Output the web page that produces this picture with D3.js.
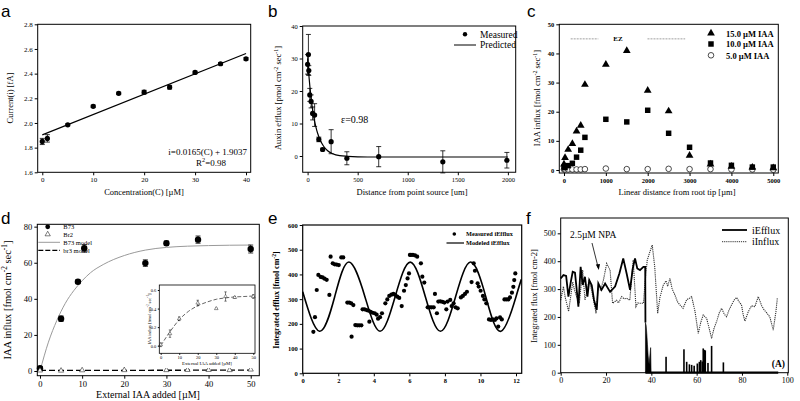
<!DOCTYPE html>
<html>
<head>
<meta charset="utf-8">
<script src="https://cdn.jsdelivr.net/npm/d3@7"></script>
<style>
  body { margin: 0; background: #fff; }
  svg { display: block; }
</style>
</head>
<body>
<svg id="chart" width="800" height="401"></svg>
<script>
// ---- panel a: calibration
const aConc = [0, 1, 5, 10, 15, 20, 25, 30, 35, 40];
const aCurrent = [1.85, 1.875, 1.985, 2.135, 2.24, 2.25, 2.29, 2.41, 2.48, 2.52];
const aErr = [0.025, 0.03, 0.008, 0.01, 0.01, 0.015, 0.015, 0.01, 0.01, 0.01];
const aFitX = [0, 40];
const aFitY = [1.9037, 2.5637];
const aXTicks = [0, 10, 20, 30, 40];
const aYTicks = [1.6, 1.8, 2.0, 2.2, 2.4, 2.6, 2.8];

// ---- panel b: efflux vs distance
const bDist = [0, 8, 12, 22, 35, 50, 70, 112, 150, 235, 392, 710, 1350, 1990];
const bEfflux = [28.2, 31.2, 26.3, 18.8, 16.8, 13.1, 12.6, 5.1, 2.0, 4.4, -0.7, -0.2, -1.8, -1.3];
const bErr = [3, 6.2, 1.5, 2, 2, 2, 3.5, 0.7, 0.4, 3.7, 2, 3.1, 3.4, 2.4];
const bPredX = [0, 15, 30, 45, 60, 80, 100, 130, 160, 200, 250, 320, 400, 600, 1000, 2000];
const bPredY = [30, 24, 19.2, 15.3, 12.3, 9.3, 7.0, 4.6, 3.0, 1.6, 0.7, 0.1, -0.1, -0.3, -0.3, -0.3];
const bXTicks = [0, 500, 1000, 1500, 2000];
const bYTicks = [0, 10, 20, 30, 40];

// ---- panel c: IAA influx along root
const cDist = [0, 25, 100, 200, 300, 400, 500, 1000, 1500, 2000, 2500, 3000, 3500, 4000, 4500, 5000];
const c15 = [2, 4.2, 7, 9, 13.3, 15.3, 29.3, 36.2, 40.9, 27.3, 20.2, 5, 2, 1.2, 0.9, 0.7];
const c10 = [1.0, 0.8, 1.5, 2.3, 4.4, 6.8, 11.2, 17.4, 16.5, 20.5, 12.6, 7.8, 2.4, 1.6, 1.0, 1.0];
const c5 = [0.2, 0.2, 0.2, 0.2, 0.2, 0.2, 0.3, 0.5, 0.3, 0.3, 0.4, 0.3, 0.3, 0.2, 0.2, 0.1];
const cEzLeft = [160, 820];
const cEzRight = [1995, 2895];
const cXTicks = [0, 1000, 2000, 3000, 4000, 5000];
const cYTicks = [0, 10, 20, 30, 40, 50];

// ---- panel d: saturation
const dB73X = [0, 5, 9, 10.5, 25, 30, 37.5, 50];
const dB73Y = [1.5, 29, 49.5, 68, 59.8, 70.8, 72.8, 67.6];
const dB73Err = [1, 1.5, 1, 2, 1.8, 1.2, 2, 2.2];
const dBr2X = [0, 5, 10, 20, 30, 35, 40, 45, 50];
const dBr2Y = [0.3, 0.2, 0.4, 0.5, 0.5, 0.6, 0.6, 0.5, 0.8];
const dModelX = [0, 2, 4, 6, 8, 10, 12, 15, 20, 25, 30, 40, 50];
const dModelY = [0, 16, 28, 37.5, 44.5, 50, 54.5, 59, 64, 67, 68.5, 69.5, 69.8];
const dBr3X = [0, 50];
const dBr3Y = [0.3, 0.5];
const dXTicks = [0, 10, 20, 30, 40, 50];
const dYTicks = [0, 20, 40, 60, 80];
const insX = [0, 5, 10, 20, 30, 35, 40, 50];
const insY = [0.01, 0.13, 0.29, 0.46, 0.40, 0.53, 0.52, 0.53];
const insErr = [0.02, 0.04, 0.02, 0.03, 0.005, 0.05, 0.01, 0.02];
const insFitX = [0, 5, 10, 15, 20, 25, 30, 35, 40, 45, 50];
const insFitY = [0, 0.15, 0.28, 0.37, 0.43, 0.47, 0.50, 0.515, 0.525, 0.53, 0.535];
const insXTicks = [0, 10, 20, 30, 40, 50];
const insYTicks = [0, 0.2, 0.4, 0.6];

// ---- panel e: oscillating efflux
const eMeasured = [
  [0.6, 168], [0.69, 227], [0.79, 337], [0.88, 398], [1.01, 390], [1.12, 388], [1.23, 383], [1.35, 378],
  [1.5, 317], [1.57, 472], [1.69, 445], [1.8, 441], [1.91, 440], [2.03, 438], [2.17, 469], [2.28, 469],
  [2.51, 286], [2.62, 286], [2.73, 283], [2.85, 276], [2.75, 148], [2.96, 195], [3.07, 194], [3.18, 194],
  [3.3, 194], [3.37, 259], [3.48, 259], [3.6, 256], [3.71, 253], [3.75, 209], [3.82, 249], [3.93, 245],
  [4.05, 243], [4.16, 237], [4.24, 221], [4.35, 227], [4.46, 243], [4.65, 283], [4.76, 299], [4.87, 313],
  [4.99, 318], [5.1, 321], [5.21, 317], [5.32, 310], [5.43, 305], [5.57, 272], [5.7, 334], [5.8, 357],
  [5.9, 384], [5.98, 404], [6.03, 479], [6.09, 479], [6.2, 479], [6.32, 477], [6.44, 472], [6.65, 445],
  [6.73, 391], [6.84, 367], [7.03, 267], [7.14, 267], [7.25, 267], [7.37, 267], [7.44, 321], [7.55, 243],
  [7.63, 290], [7.74, 291], [7.86, 289], [7.97, 286], [8.08, 259], [8.15, 290], [8.3, 297], [8.38, 272],
  [8.49, 283], [8.6, 267], [8.72, 263], [8.9, 307], [9.01, 313], [9.13, 321], [9.24, 330], [9.5, 369],
  [9.62, 445], [9.69, 415], [9.84, 364], [9.9, 351], [10.01, 334], [10.14, 313], [10.22, 299], [10.33, 283],
  [10.48, 218], [10.59, 216], [10.7, 218], [10.81, 216], [10.9, 222], [11.0, 189], [11.1, 226], [11.2, 218],
  [11.35, 299], [11.46, 299], [11.57, 299], [11.66, 307], [11.77, 326], [11.85, 350], [11.9, 377], [11.96, 404]
];
const eModelX = [0, 0.95, 1.8, 2.6, 3.5, 4.35, 5.2, 6.05, 6.9, 7.75, 8.6, 9.45, 10.3, 11.15, 12.0, 12.3];
const eModelY = [330, 170, 310, 450, 310, 170, 310, 450, 310, 170, 310, 450, 310, 170, 310, 380];
const eXTicks = [0, 2, 4, 6, 8, 10, 12];
const eYTicks = [0, 100, 200, 300, 400, 500, 600];

// ---- panel f: NPA treatment
const fEfflux = [
  [0, 338], [1.2, 350], [2.4, 347], [3.4, 273], [4.4, 323], [5.3, 362], [6.3, 359], [7, 303], [7.8, 237],
  [8.8, 380], [9.7, 315], [10.7, 344], [11.8, 273], [12.6, 332], [13.7, 314], [14.7, 261], [15.9, 225],
  [16.6, 320], [18, 297], [19.6, 320], [21.8, 290], [24, 309], [25.9, 356], [27.6, 410], [29.1, 356],
  [30.6, 297], [31.8, 374], [32.8, 410], [33.8, 374], [35, 368], [36.5, 380], [37.3, 380]
];
const fEffluxDrop = [[37.4, 180], [37.7, 170], [38, 140], [38.3, 100], [38.6, 60], [39.0, 30], [39.7, 90], [39.9, 0]];
const fEffluxTail = [[37.4, 0], [96, 0]];
const fSpikes = [
  [46.5, 57], [54.4, 84], [55.6, 39], [56.8, 30], [57.8, 28], [58.9, 25], [60.3, 33], [61.2, 39],
  [61.8, 45], [62.5, 40], [62.9, 87], [63.4, 82], [63.8, 80], [65, 35], [66.6, 96], [71.8, 37]
];
const fInflux = [
  [0, 260], [1.2, 309], [2, 270], [3.5, 220], [5.3, 326], [6, 300], [7, 273], [8.2, 249], [9.7, 368],
  [10.7, 260], [11.5, 290], [12.6, 335], [13.5, 300], [14.5, 260], [15.6, 213], [16.5, 300], [17.6, 297],
  [18.8, 330], [20.3, 392], [21.8, 368], [22.9, 249], [24.7, 260], [25.5, 250], [26.9, 273], [28, 265],
  [29.1, 267], [30.5, 260], [31.2, 330], [32, 404], [33.2, 237], [34, 250], [35, 249], [36.5, 249],
  [37.3, 330], [38.2, 404], [39.2, 430], [40.4, 458], [41.5, 380], [42.8, 213], [43.8, 270], [45.3, 315],
  [46.5, 330], [47.2, 310], [48.2, 338], [49.2, 300], [50.4, 279], [51.5, 255], [52.6, 243], [54, 231],
  [55.6, 262], [57, 268], [57.8, 273], [59.3, 219], [60.7, 141], [61.8, 180], [62.9, 207], [64.4, 195],
  [65.5, 160], [66.6, 123], [67.7, 160], [68.8, 183], [70, 215], [71, 231], [72.2, 210], [73.2, 201],
  [74.3, 225], [75.4, 243], [76.5, 260], [77.6, 270], [78.7, 255], [79.8, 243], [80.5, 210], [81.3, 185],
  [82.8, 219], [84.2, 240], [85.7, 237], [87.2, 273], [88.7, 240], [89.8, 225], [90.9, 215], [92.3, 200],
  [93.8, 153], [95, 220], [95.6, 267]
];
const fXTicks = [0, 20, 40, 60, 80, 100];
const fYTicks = [0, 100, 200, 300, 400, 500];

const SERIF = '"Liberation Serif", "Times New Roman", serif';
const SANS = '"Liberation Sans", Arial, sans-serif';
const svg = d3.select('#chart');

function makePanel(p) {
  const g = svg.append('g');
  const x = d3.scaleLinear().domain(p.xDomain).range(p.xRange);
  const y = d3.scaleLinear().domain(p.yDomain).range(p.yRange);
  const [l, t, r, b] = p.box;
  const ts = p.tickSize || 3;
  const xa = g.append('g')
    .attr('transform', `translate(0,${b})`)
    .call(d3.axisBottom(x).tickValues(p.xTicks).tickSize(ts).tickPadding(p.pad || 2)
      .tickFormat(p.xFormat || (d => d)));
  const ya = g.append('g')
    .attr('transform', `translate(${l},0)`)
    .call(d3.axisLeft(y).tickValues(p.yTicks).tickSize(ts).tickPadding(p.pad || 2)
      .tickFormat(p.yFormat || (d => d)));
  [xa, ya].forEach(a => {
    a.select('.domain').remove();
    a.selectAll('line').attr('stroke', '#000');
    a.selectAll('text')
      .attr('font-family', p.font || SERIF)
      .attr('font-size', p.tickFont || 7)
      .attr('font-weight', p.bold ? 'bold' : 'normal')
      .attr('fill', '#000');
  });
  const frame = g.append('rect')
    .attr('x', l).attr('y', t)
    .attr('width', r - l).attr('height', b - t)
    .attr('fill', 'none').attr('stroke', '#000').attr('stroke-width', p.frameWidth || 1);
  const plot = g.append('g');
  frame.raise();
  return { g, plot, x, y };
}

function label(g, x, y, str, opt = {}) {
  return g.append('text')
    .attr('x', x).attr('y', y)
    .attr('font-family', opt.font || SERIF)
    .attr('font-size', opt.size || 9)
    .attr('font-weight', opt.bold ? 'bold' : 'normal')
    .attr('text-anchor', opt.anchor || 'start')
    .attr('fill', '#000')
    .text(str);
}

// text with alternating normal / superscript parts
function richText(g, x, y, parts, opt = {}) {
  const size = opt.size || 9;
  const t = g.append('text')
    .attr('transform', `translate(${x},${y})` + (opt.rotate ? ' rotate(-90)' : ''))
    .attr('font-family', opt.font || SERIF)
    .attr('font-size', size)
    .attr('font-weight', opt.bold ? 'bold' : 'normal')
    .attr('text-anchor', opt.anchor || 'middle')
    .attr('fill', '#000');
  parts.forEach((p, i) => {
    const sup = i % 2 === 1;
    t.append('tspan')
      .attr('dy', sup ? -size * 0.38 : (i > 0 ? size * 0.38 : 0))
      .attr('font-size', sup ? size * 0.7 : size)
      .text(p);
  });
  return t;
}

function errorBars(g, x, y, xs, ys, es, cap, w) {
  g.append('g').selectAll('path')
    .data(xs.map((v, i) => ({ x: v, y: ys[i], e: es[i] })))
    .join('path')
    .attr('d', d => {
      const cx = x(d.x), y1 = y(d.y + d.e), y2 = y(d.y - d.e);
      return `M${cx},${y1}V${y2}M${cx - cap},${y1}H${cx + cap}M${cx - cap},${y2}H${cx + cap}`;
    })
    .attr('fill', 'none').attr('stroke', '#000').attr('stroke-width', w || 0.8);
}

function panelLetter(x, y, s) {
  label(svg, x, y, s, { font: SANS, size: 17 });
}

// ================= panel a =================
{
  const { g, plot, x, y } = makePanel({
    box: [37.7, 24.3, 250.7, 172.3],
    xDomain: [-0.9, 40.92], xRange: [37.7, 250.7],
    yDomain: [1.6, 2.8], yRange: [172.3, 24.3],
    xTicks: aXTicks, yTicks: aYTicks, yFormat: d3.format('.1f'), tickFont: 7
  });
  plot.append('path')
    .attr('d', d3.line().x((d, i) => x(aFitX[i])).y(d => y(d))(aFitY))
    .attr('fill', 'none').attr('stroke', '#000').attr('stroke-width', 1.2);
  errorBars(plot, x, y, aConc, aCurrent, aErr, 2.5);
  plot.selectAll('circle').data(aConc).join('circle')
    .attr('cx', d => x(d)).attr('cy', (d, i) => y(aCurrent[i])).attr('r', 2.6).attr('fill', '#000');
  label(g, 247, 155, 'i=0.0165(C) + 1.9037', { size: 9, anchor: 'end' });
  richText(g, 211, 165.5, ['R', '2', '=0.98'], { size: 9 });
  richText(g, 13, 98, ['Current(i) [fA]'], { size: 8.5, rotate: true });
  label(g, 144, 195, 'Concentration(C) [\u00b5M]', { size: 8.5, anchor: 'middle' });
  panelLetter(1, 16.5, 'a');
}

// ================= panel b =================
{
  const { g, plot, x, y } = makePanel({
    box: [302.7, 26, 515.7, 172.25],
    xDomain: [-49, 2078], xRange: [302.7, 515.7],
    yDomain: [-5, 40], yRange: [172.25, 26],
    xTicks: bXTicks, yTicks: bYTicks, tickFont: 6.5
  });
  plot.append('path')
    .attr('d', d3.line().curve(d3.curveMonotoneX).x((d, i) => x(bPredX[i])).y(d => y(d))(bPredY))
    .attr('fill', 'none').attr('stroke', '#000').attr('stroke-width', 1.2);
  errorBars(plot, x, y, bDist, bEfflux, bErr, 2.5);
  plot.selectAll('circle').data(bDist).join('circle')
    .attr('cx', d => x(d)).attr('cy', (d, i) => y(bEfflux[i])).attr('r', 2.6).attr('fill', '#000');
  g.append('circle').attr('cx', 465).attr('cy', 34.3).attr('r', 2.2).attr('fill', '#000');
  label(g, 480, 37.5, 'Measured', { size: 9.5 });
  g.append('line').attr('x1', 454).attr('x2', 476).attr('y1', 45).attr('y2', 45).attr('stroke', '#000');
  label(g, 480, 48.3, 'Predicted', { size: 9.5 });
  label(g, 341, 122.5, '\u03b5=0.98', { size: 10 });
  richText(g, 281, 98, ['Auxin efflux [pmol cm', '-2', ' sec', '-1', ']'], { size: 8.5, rotate: true });
  label(g, 412, 195, 'Distance from point source [um]', { size: 8.5, anchor: 'middle' });
  panelLetter(268, 16.5, 'b');
}

// ================= panel c =================
{
  const { g, plot, x, y } = makePanel({
    box: [559.3, 24.3, 778.3, 173],
    xDomain: [-112, 5120], xRange: [559.3, 778.3],
    yDomain: [-1.03, 50], yRange: [173, 24.3],
    xTicks: cXTicks, yTicks: cYTicks, tickFont: 6.5, bold: true
  });
  [cEzLeft, cEzRight].forEach(seg => {
    plot.append('line')
      .attr('x1', x(seg[0])).attr('x2', x(seg[1])).attr('y1', y(45)).attr('y2', y(45))
      .attr('stroke', '#888').attr('stroke-width', 0.8).attr('stroke-dasharray', '2,1');
  });
  label(g, x(1290), y(45) + 2.5, 'EZ', { size: 7, bold: true, anchor: 'middle' });
  const tri = d3.symbol(d3.symbolTriangle).size(26);
  const sq = d3.symbol(d3.symbolSquare).size(30);
  plot.selectAll('.c5').data(cDist).join('circle').attr('class', 'c5')
    .attr('cx', d => x(d)).attr('cy', (d, i) => y(c5[i])).attr('r', 2.8)
    .attr('fill', '#fff').attr('stroke', '#000').attr('stroke-width', 0.7);
  plot.selectAll('.c10').data(cDist).join('path').attr('class', 'c10')
    .attr('transform', (d, i) => `translate(${x(d)},${y(c10[i])})`).attr('d', sq).attr('fill', '#000');
  plot.selectAll('.c15').data(cDist).join('path').attr('class', 'c15')
    .attr('transform', (d, i) => `translate(${x(d)},${y(c15[i])})`).attr('d', tri).attr('fill', '#000');
  g.append('path').attr('transform', 'translate(711,33.3)').attr('d', tri).attr('fill', '#000');
  g.append('path').attr('transform', 'translate(711,44)').attr('d', sq).attr('fill', '#000');
  g.append('circle').attr('cx', 711).attr('cy', 55.3).attr('r', 2.8)
    .attr('fill', '#fff').attr('stroke', '#000').attr('stroke-width', 0.7);
  label(g, 726, 36.5, '15.0 \u00b5M IAA', { size: 8.5, bold: true });
  label(g, 726, 47.2, '10.0 \u00b5M IAA', { size: 8.5, bold: true });
  label(g, 726, 58.5, '5.0 \u00b5M IAA', { size: 8.5, bold: true });
  richText(g, 540, 98, ['IAA influx [fmol cm', '-2', ' sec', '-1', ']'], { size: 8.5, rotate: true });
  label(g, 677, 195, 'Linear distance from root tip [\u00b5m]', { size: 8.5, anchor: 'middle' });
  panelLetter(527, 16.5, 'c');
}

// ================= panel d =================
{
  const { g, plot, x, y } = makePanel({
    box: [37.3, 224.3, 259.3, 375.7],
    xDomain: [-0.64, 52.04], xRange: [37.3, 259.3],
    yDomain: [-2.6, 81.3], yRange: [375.7, 224.3],
    xTicks: dXTicks, yTicks: dYTicks, tickFont: 8.5
  });
  plot.append('path')
    .attr('d', d3.line().curve(d3.curveMonotoneX).x((d, i) => x(dModelX[i])).y(d => y(d))(dModelY))
    .attr('fill', 'none').attr('stroke', '#9a9a9a').attr('stroke-width', 1);
  plot.append('path')
    .attr('d', d3.line().x((d, i) => x(dBr3X[i])).y(d => y(d))(dBr3Y))
    .attr('fill', 'none').attr('stroke', '#000').attr('stroke-width', 1.3).attr('stroke-dasharray', '6,3');
  errorBars(plot, x, y, dB73X, dB73Y, dB73Err, 2.5);
  plot.selectAll('.b73').data(dB73X).join('circle').attr('class', 'b73')
    .attr('cx', d => x(d)).attr('cy', (d, i) => y(dB73Y[i])).attr('r', 3.2).attr('fill', '#000');
  const otri = d3.symbol(d3.symbolTriangle).size(12);
  plot.selectAll('.br2').data(dBr2X).join('path').attr('class', 'br2')
    .attr('transform', (d, i) => `translate(${x(d)},${y(dBr2Y[i])})`).attr('d', otri)
    .attr('fill', '#fff').attr('stroke', '#000').attr('stroke-width', 0.5);

  // legend
  g.append('circle').attr('cx', 47.7).attr('cy', 226.8).attr('r', 2.4).attr('fill', '#000');
  g.append('path').attr('transform', 'translate(47.7,234.3)').attr('d', otri)
    .attr('fill', '#fff').attr('stroke', '#000').attr('stroke-width', 0.5);
  g.append('line').attr('x1', 38.3).attr('x2', 60).attr('y1', 242.3).attr('y2', 242.3)
    .attr('stroke', '#9a9a9a').attr('stroke-width', 1);
  g.append('line').attr('x1', 38.3).attr('x2', 60).attr('y1', 250.3).attr('y2', 250.3)
    .attr('stroke', '#000').attr('stroke-width', 1.3).attr('stroke-dasharray', '5,2');
  label(g, 63.3, 229, 'B73', { size: 6.5 });
  label(g, 63.3, 236.6, 'Br2', { size: 6.5 });
  label(g, 63.3, 244.6, 'B73 model', { size: 6.5 });
  label(g, 63.3, 252.6, 'br3 model', { size: 6.5 });

  // inset
  const inset = makePanel({
    box: [159.3, 285, 255, 353.3],
    xDomain: [-0.76, 50.92], xRange: [159.3, 255],
    yDomain: [-0.082, 0.654], yRange: [353.3, 285],
    xTicks: insXTicks, yTicks: insYTicks, yFormat: d3.format('.1f'),
    tickFont: 4.5, tickSize: 1.5, pad: 1.5, frameWidth: 0.8
  });
  inset.g.insert('rect', ':first-child')
    .attr('x', 140).attr('y', 284).attr('width', 116).attr('height', 84).attr('fill', '#fff');
  inset.plot.append('path')
    .attr('d', d3.line().curve(d3.curveMonotoneX).x((d, i) => inset.x(insFitX[i])).y(d => inset.y(d))(insFitY))
    .attr('fill', 'none').attr('stroke', '#555').attr('stroke-width', 0.9).attr('stroke-dasharray', '4,2');
  errorBars(inset.plot, inset.x, inset.y, insX, insY, insErr, 1.2, 0.5);
  const itri = d3.symbol(d3.symbolTriangle).size(6);
  inset.plot.selectAll('.ins').data(insX).join('path').attr('class', 'ins')
    .attr('transform', (d, i) => `translate(${inset.x(d)},${inset.y(insY[i])})`).attr('d', itri)
    .attr('fill', '#fff').attr('stroke', '#000').attr('stroke-width', 0.4);
  richText(inset.g, 150.5, 319, ['IAA influx [fmol cm', '-2', ' sec', '-1', ']'], { size: 4.5, rotate: true });
  label(inset.g, 207, 365, 'External IAA added [\u00b5M]', { size: 4.8, anchor: 'middle' });
  inset.g.raise();

  richText(g, 11, 300, ['IAA influx [fmol cm', '-2', ' sec', '-1', ']'], { size: 10.5, rotate: true });
  label(g, 148, 397.5, 'External IAA added [\u00b5M]', { size: 10, anchor: 'middle' });
  panelLetter(1, 224, 'd');
}

// ================= panel e =================
{
  const { g, plot, x, y } = makePanel({
    box: [302.7, 225, 521.7, 373.3],
    xDomain: [0, 12.32], xRange: [302.7, 521.7],
    yDomain: [0, 600], yRange: [373.3, 225],
    xTicks: eXTicks, yTicks: eYTicks, tickFont: 6.5, bold: true, frameWidth: 1.2
  });
  plot.append('path')
    .attr('d', d3.line().curve(d3.curveNatural).x((d, i) => x(eModelX[i])).y(d => y(d))(eModelY))
    .attr('fill', 'none').attr('stroke', '#000').attr('stroke-width', 1.6);
  plot.selectAll('circle').data(eMeasured).join('circle')
    .attr('cx', d => x(d[0])).attr('cy', d => y(d[1])).attr('r', 2.1).attr('fill', '#000');
  g.append('circle').attr('cx', 454.3).attr('cy', 234).attr('r', 1.8).attr('fill', '#000');
  g.append('line').attr('x1', 446.5).attr('x2', 464).attr('y1', 243).attr('y2', 243)
    .attr('stroke', '#000').attr('stroke-width', 1.2);
  label(g, 466, 236, 'Measured iEfflux', { size: 6.3, bold: true });
  label(g, 466, 245, 'Modeled iEfflux', { size: 6.3, bold: true });
  richText(g, 279, 300, ['Integrated efflux [fmol cm', '-2', ']'], { size: 8, bold: true, rotate: true });
  panelLetter(268, 224, 'e');
}

// ================= panel f =================
{
  const { g, plot, x, y } = makePanel({
    box: [560.7, 218, 788.3, 372.7],
    xDomain: [0, 100.45], xRange: [560.7, 788.3],
    yDomain: [0, 555], yRange: [372.7, 218],
    xTicks: fXTicks, yTicks: fYTicks, tickFont: 8
  });
  const line = d3.line().x(d => x(d[0])).y(d => y(d[1]));
  plot.append('path').attr('d', line(fInflux))
    .attr('fill', 'none').attr('stroke', '#333').attr('stroke-width', 1.1).attr('stroke-dasharray', '1.2,0.9');
  plot.append('path').attr('d', line(fEfflux.concat([fEffluxDrop[0]])))
    .attr('fill', 'none').attr('stroke', '#000').attr('stroke-width', 1.8);
  plot.append('path')
    .attr('d', d3.area().x(d => x(d[0])).y0(y(0)).y1(d => y(d[1]))(fEffluxDrop))
    .attr('fill', '#000').attr('stroke', '#000').attr('stroke-width', 0.6);
  plot.append('path').attr('d', line(fEffluxTail))
    .attr('fill', 'none').attr('stroke', '#000').attr('stroke-width', 2.2);
  plot.selectAll('.spike').data(fSpikes).join('rect').attr('class', 'spike')
    .attr('x', d => x(d[0]) - 0.8).attr('width', 1.6)
    .attr('y', d => y(d[1])).attr('height', d => y(0) - y(d[1])).attr('fill', '#000');
  // legend
  g.append('line').attr('x1', 722).attr('x2', 747).attr('y1', 230).attr('y2', 230)
    .attr('stroke', '#000').attr('stroke-width', 1.8);
  g.append('line').attr('x1', 722).attr('x2', 747).attr('y1', 241.7).attr('y2', 241.7)
    .attr('stroke', '#333').attr('stroke-width', 1).attr('stroke-dasharray', '1.2,0.9');
  label(g, 752, 233.5, 'iEfflux', { size: 10 });
  label(g, 752, 245, 'iInflux', { size: 10 });
  label(g, 570, 237.5, '2.5\u00b5M NPA', { size: 9.5 });
  g.append('line').attr('x1', 592).attr('y1', 243).attr('x2', 598.3).attr('y2', 268)
    .attr('stroke', '#000').attr('stroke-width', 0.8);
  g.append('path').attr('d', 'M598.8,270 L595.8,264.5 L600,264 Z').attr('fill', '#000');
  label(g, 785, 367, '(A)', { size: 9.5, bold: true, anchor: 'end' });
  label(g, 0, 0, 'Integrated flux [fmol cm-2]', { size: 8.5, anchor: 'middle' })
    .attr('transform', 'translate(537,296) rotate(-90)');
  panelLetter(526, 224, 'f');
}
</script>
</body>
</html>
